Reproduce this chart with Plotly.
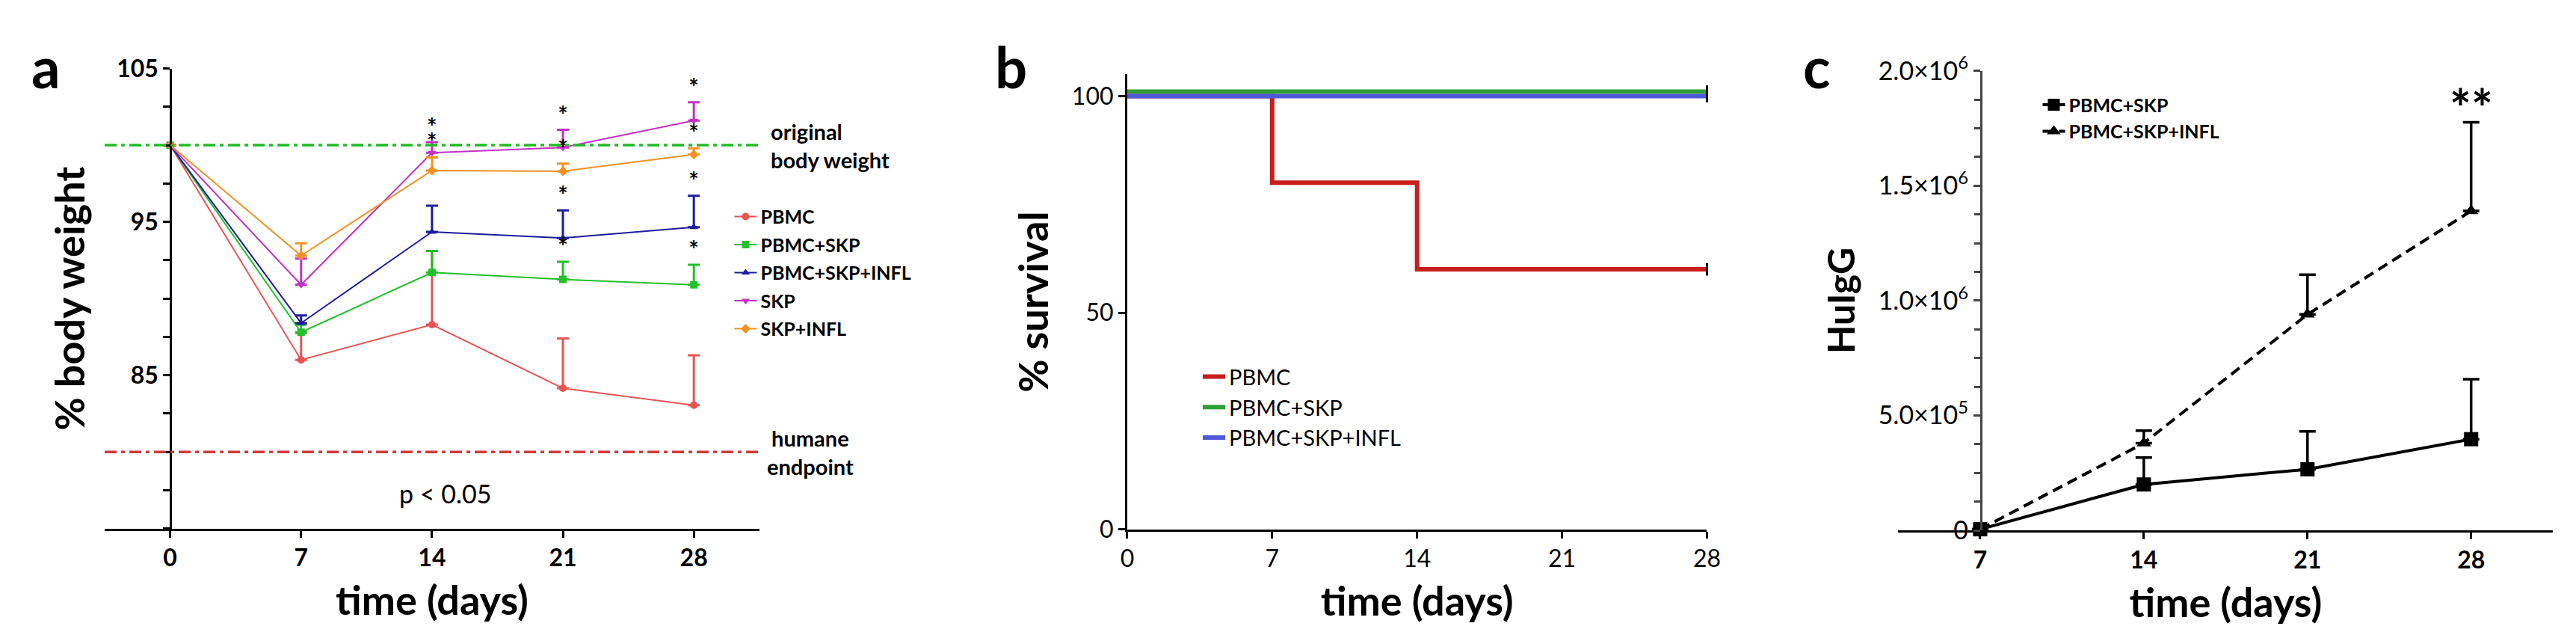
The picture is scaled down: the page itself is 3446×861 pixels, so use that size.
import plotly.graph_objects as go

# ---- panel a : body weight ----
days_a = [0, 7, 14, 21, 28]
groups_a = ["PBMC", "PBMC+SKP", "PBMC+SKP+INFL", "SKP", "SKP+INFL"]
pbmc_mean = [100, 86.0, 88.3, 84.15, 83.05]
pbmc_err = [0, 1.75, 4.8, 3.25, 3.25]
pbmc_skp_mean = [100, 87.8, 91.7, 91.25, 90.9]
pbmc_skp_err = [0, 0.5, 1.4, 1.15, 1.3]
pbmc_skp_infl_mean = [100, 88.4, 94.35, 93.95, 94.65]
pbmc_skp_infl_err = [0, 0.5, 1.7, 1.8, 2.05]
skp_mean = [100, 90.9, 99.5, 99.85, 101.6]
skp_err = [0, 1.7, 0.7, 1.15, 1.2]
skp_infl_mean = [100, 92.8, 98.35, 98.3, 99.4]
skp_infl_err = [0, 0.8, 0.85, 0.5, 0.4]
# 1 = significant (asterisk) at that day
pbmc_sig = [0, 0, 0, 0, 0]
pbmc_skp_sig = [0, 0, 0, 1, 1]
pbmc_skp_infl_sig = [0, 0, 0, 1, 1]
skp_sig = [0, 0, 1, 1, 1]
skp_infl_sig = [0, 0, 1, 1, 1]
original_weight = 100
humane_endpoint = 80

# ---- panel b : survival ----
surv_days = [0, 7, 14, 28]
groups_b = ["PBMC", "PBMC+SKP", "PBMC+SKP+INFL"]
surv_pbmc = [100, 80, 60, 60]
surv_pbmc_skp = [101, 101, 101, 101]
surv_pbmc_skp_infl = [100, 100, 100, 100]

# ---- panel c : HuIgG ----
igg_days = [7, 14, 21, 28]
groups_c = ["PBMC+SKP", "PBMC+SKP+INFL"]
igg_skp = [5e3, 2.0e5, 2.66e5, 3.97e5]
igg_skp_err = [0, 1.17e5, 1.65e5, 2.61e5]
igg_infl = [5e3, 3.8e5, 9.4e5, 1.39e6]
igg_infl_err = [0, 0.54e5, 1.73e5, 3.86e5]
igg_ticks = [0, 5e5, 1e6, 1.5e6, 2e6]
igg_ticktext = ["0", "5.0×10<sup>5</sup>", "1.0×10<sup>6</sup>",
                "1.5×10<sup>6</sup>", "2.0×10<sup>6</sup>"]

FONT = "Lato, Open Sans, sans-serif"
W, H = 3446, 861

fig = go.Figure()

# panel a traces
colors_a = ["#E85454", "#22C02A", "#1C1C9C", "#C232C2", "#F39124"]
symbols_a = ["circle", "square", "triangle-up", "triangle-down", "diamond"]
means_a = [pbmc_mean, pbmc_skp_mean, pbmc_skp_infl_mean, skp_mean, skp_infl_mean]
errs_a = [pbmc_err, pbmc_skp_err, pbmc_skp_infl_err, skp_err, skp_infl_err]
sigs_a = [pbmc_sig, pbmc_skp_sig, pbmc_skp_infl_sig, skp_sig, skp_infl_sig]

for name, m, e, c, s in zip(groups_a, means_a, errs_a, colors_a, symbols_a):
    fig.add_trace(go.Scatter(
        x=days_a, y=m, name=name, mode="lines+markers",
        line=dict(color=c, width=2),
        marker=dict(color=c, symbol=s, size=10),
        error_y=dict(type="data", array=e, arrayminus=[0] * len(e), symmetric=False,
                     color=c, thickness=3, width=8),
        xaxis="x", yaxis="y", legend="legend", legendgroup=name
    ))

# asterisks on top of error bars
star_x, star_y = [], []
for m, e, sg in zip(means_a, errs_a, sigs_a):
    for d, mv, ev, f in zip(days_a, m, e, sg):
        if f:
            star_x.append(d)
            star_y.append(mv + ev)
fig.add_trace(go.Scatter(
    x=star_x, y=star_y, mode="text", text=["*"] * len(star_x),
    textposition="top center",
    textfont=dict(size=32, color="black", family=FONT, weight="bold"),
    showlegend=False, cliponaxis=False, xaxis="x", yaxis="y"
))

# panel b traces
colors_b = ["#C81E1E", "#2E9E35", "#5058DA"]
survs = [surv_pbmc, surv_pbmc_skp, surv_pbmc_skp_infl]
for name, sv, c in zip(groups_b, survs, colors_b):
    fig.add_trace(go.Scatter(
        x=surv_days, y=sv, name=name, mode="lines", line_shape="hv",
        line=dict(color=c, width=6), xaxis="x2", yaxis="y2", legend="legend2",
        cliponaxis=False
    ))
    # censor tick at end of follow-up
    fig.add_trace(go.Scatter(
        x=[surv_days[-1]], y=[sv[-1]], mode="markers", showlegend=False,
        marker=dict(symbol="line-ns", size=12, line=dict(color="black", width=3)),
        xaxis="x2", yaxis="y2", cliponaxis=False
    ))

# panel c traces
igg_means = [igg_skp, igg_infl]
igg_errs = [igg_skp_err, igg_infl_err]
dashes_c = ["solid", "14px,8px"]
symbols_c = ["square", "triangle-up"]
sizes_c = [19, 17]
for name, m, e, d, s, sz in zip(groups_c, igg_means, igg_errs, dashes_c, symbols_c, sizes_c):
    fig.add_trace(go.Scatter(
        x=igg_days, y=m, name=name, mode="lines+markers",
        line=dict(color="black", width=4, dash=d),
        marker=dict(color="black", symbol=s, size=sz),
        error_y=dict(type="data", array=e, arrayminus=[0] * len(e), symmetric=False,
                     color="black", thickness=3.5, width=11),
        xaxis="x3", yaxis="y3", legend="legend3", cliponaxis=False
    ))

# reference lines in panel a
fig.add_shape(type="line", xref="x domain", yref="y", x0=0, x1=1,
              y0=original_weight, y1=original_weight,
              line=dict(color="#22BB22", width=3.5, dash="16px,6px,5px,6px"))
fig.add_shape(type="line", xref="x domain", yref="y", x0=0, x1=1,
              y0=humane_endpoint, y1=humane_endpoint,
              line=dict(color="#D23A3A", width=3.5, dash="16px,6px,5px,6px"))

ax_common = dict(showline=True, linecolor="black", linewidth=3, ticks="outside",
                 ticklen=9, tickwidth=3, tickcolor="black", showgrid=False,
                 zeroline=False)
title_font = dict(size=54, weight="bold")

fig.update_layout(
    width=W, height=H,
    margin=dict(l=0, r=0, t=0, b=0),
    paper_bgcolor="white", plot_bgcolor="white",
    font=dict(family=FONT, color="black"),
    xaxis=dict(domain=[0.036, 0.2922], range=[-3.5, 31.5], tickvals=days_a,
               tickfont=dict(size=32, family=FONT, weight="bold"),
               title=dict(text="time (days)", font=title_font, standoff=22),
               anchor="y", **ax_common),
    yaxis=dict(domain=[0.1754, 0.9283], range=[75, 105], tickvals=[85, 95, 105],
               anchor="free", position=0.0618,
               minor=dict(tick0=75, dtick=2.5, ticks="outside", ticklen=9, tickwidth=3,
                          tickcolor="black"),
               tickfont=dict(size=32, family=FONT, weight="bold"),
               title=dict(text="% body weight", font=title_font, standoff=24),
               **ax_common),
    xaxis2=dict(domain=[0.4362, 0.6631], range=[0, 28], tickvals=[0, 7, 14, 21, 28],
                tickfont=dict(size=32, family=FONT),
                title=dict(text="time (days)", font=title_font, standoff=22),
                anchor="y2", **ax_common),
    yaxis2=dict(domain=[0.1742, 0.9187], range=[0, 105], tickvals=[0, 50, 100],
                tickfont=dict(size=32, family=FONT),
                title=dict(text="% survival", font=title_font, standoff=14),
                anchor="x2", **ax_common),
    xaxis3=dict(domain=[0.738, 0.9942], range=[3.5, 31.5], tickvals=igg_days,
                tickfont=dict(size=32, family=FONT, weight="bold"),
                title=dict(text="time (days)", font=title_font, standoff=22),
                anchor="y3", **ax_common),
    yaxis3=dict(domain=[0.1724, 0.9245], range=[0, 2e6], tickvals=igg_ticks,
                ticktext=igg_ticktext, anchor="free", position=0.7703,
                minor=dict(dtick=1.25e5, ticks="outside", ticklen=8, tickwidth=3,
                           tickcolor="#444"),
                tickfont=dict(size=34, family=FONT),
                title=dict(text="HuIgG", font=dict(size=50, weight="bold"), standoff=14),
                **ax_common),
    legend=dict(x=0.281, y=0.714, xanchor="left", yanchor="top", bgcolor="rgba(0,0,0,0)",
                font=dict(size=25, weight="bold"), itemwidth=30, tracegroupgap=2),
    legend2=dict(x=0.4643, y=0.455, xanchor="left", yanchor="top", bgcolor="rgba(0,0,0,0)",
                 font=dict(size=29), itemwidth=30),
    legend3=dict(x=0.793, y=0.897, xanchor="left", yanchor="top", bgcolor="rgba(0,0,0,0)",
                 font=dict(size=25, weight="bold"), itemwidth=30),
)
fig.update_layout(yaxis3=dict(linecolor="#444", tickcolor="#444"))

annotations = [
    dict(text="a", xref="paper", yref="paper", x=45 / W, y=1 - 58 / H,
         xanchor="center", yanchor="middle",
         font=dict(size=76, weight="bold"), showarrow=False),
    dict(text="b", xref="paper", yref="paper", x=1346 / W, y=1 - 58 / H,
         xanchor="center", yanchor="middle",
         font=dict(size=76, weight="bold"), showarrow=False),
    dict(text="c", xref="paper", yref="paper", x=2433 / W, y=1 - 58 / H,
         xanchor="center", yanchor="middle",
         font=dict(size=76, weight="bold"), showarrow=False),
    dict(text="original<br>body weight", xref="paper", yref="y", x=1020 / W,
         y=original_weight, xanchor="left", yanchor="middle", align="left",
         showarrow=False, font=dict(size=29, weight="bold")),
    dict(text="humane<br>endpoint", xref="paper", yref="y", x=1076 / W,
         y=humane_endpoint, xanchor="center", yanchor="middle", align="center",
         showarrow=False, font=dict(size=29, weight="bold")),
    dict(text="p < 0.05", xref="x", yref="y", x=14.7, y=77.3, showarrow=False,
         xanchor="center", yanchor="middle", font=dict(size=34)),
    dict(text="p < 0.01", xref="x3", yref="y3", x=28, y=2.06e6, showarrow=False,
         xanchor="center", yanchor="middle", font=dict(size=34)),
    dict(text="**", xref="x3", yref="y3", x=28, y=1.84e6, showarrow=False,
         xanchor="center", yanchor="middle", font=dict(size=68, weight="bold")),
]
fig.update_layout(annotations=annotations)

fig.write_html("out.html")
